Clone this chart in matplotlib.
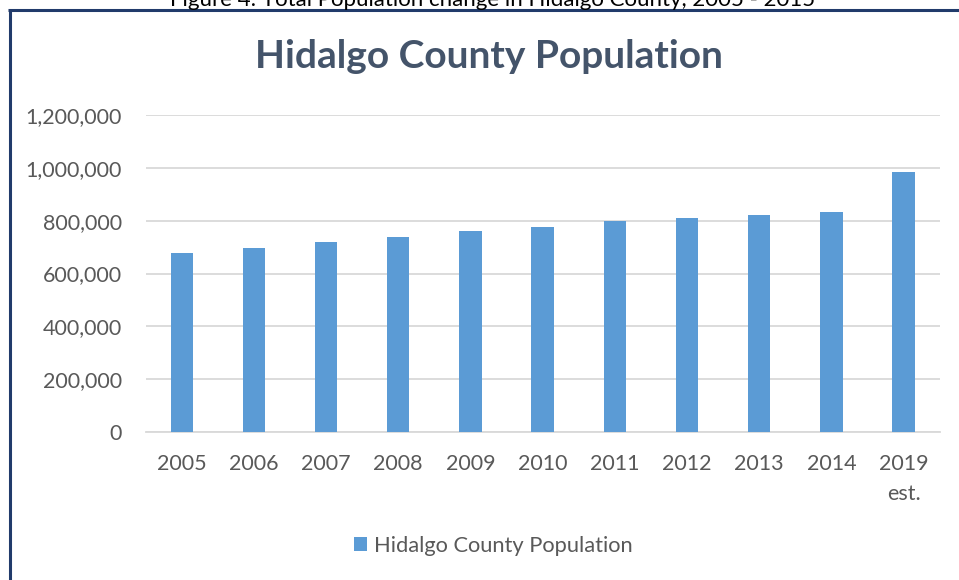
import numpy as np
import matplotlib
matplotlib.use("Agg")
from matplotlib import pyplot as plt
from matplotlib.lines import Line2D
from matplotlib.ticker import FuncFormatter

years = ["2005", "2006", "2007", "2008", "2009", "2010",
         "2011", "2012", "2013", "2014", "2019\nest."]
population = [677000, 697000, 718000, 738000, 760000, 776000,
              798000, 810000, 821000, 832000, 983000]

plt.rcParams['font.family'] = ['Lato', 'DejaVu Sans']

W, H = 959, 580
fig = plt.figure(figsize=(W / 100, H / 100), dpi=100)

# dark frame around the chart, running off the right and bottom edges
frame = "#213b6b"
fig.add_artist(Line2D([9.5 / W, 9.5 / W], [0, 1 - 9 / H], transform=fig.transFigure,
                      color=frame, lw=2.2, solid_capstyle="butt"))
fig.add_artist(Line2D([8.4 / W, 1], [1 - 10 / H, 1 - 10 / H], transform=fig.transFigure,
                      color=frame, lw=2.2, solid_capstyle="butt"))

# caption sitting above the frame, mostly cut off by the page edge
fig.text(493 / W, 1 - 5.5 / H, "Figure 4: Total Population change in Hidalgo County, 2005 - 2015",
         ha="center", va="baseline", fontsize=16, color="black")

ax = fig.add_axes([145.6 / W, 148 / H, 794 / W, 317 / H])
x = np.arange(len(years))
bars = ax.bar(x, population, width=0.31, color="#5b9bd5", label="Hidalgo County Population",
              zorder=3)

ax.set_xlim(-0.5, len(years) - 0.5)
ax.set_ylim(0, 1200000)
ax.set_yticks(np.arange(0, 1200001, 200000))
ax.yaxis.set_major_formatter(FuncFormatter(lambda v, p: f"{int(v):,}"))
ax.set_xticks(x)
ax.set_xticklabels(years, linespacing=1.6)

ax.grid(axis="y", color="#d9d9d9", lw=1.3, zorder=0)
for s in ["top", "right", "left"]:
    ax.spines[s].set_visible(False)
ax.spines["bottom"].set_color("#d9d9d9")
ax.spines["bottom"].set_linewidth(1.3)
ax.tick_params(axis="both", length=0, labelsize=15.5, labelcolor="#595959")
ax.tick_params(axis="y", pad=17)
ax.tick_params(axis="x", pad=16)

fig.text(489 / W, 1 - 56 / H, "Hidalgo County Population", ha="center", va="center",
         fontsize=28, fontweight="bold", color="#44546a")

fig.legend(handles=[bars], loc="center", bbox_to_anchor=(493 / W, 34 / H), frameon=False,
           fontsize=15.75, labelcolor="#595959", handlelength=0.6, handleheight=0.6,
           handletextpad=0.3)

fig.savefig("out.png", dpi=100)
